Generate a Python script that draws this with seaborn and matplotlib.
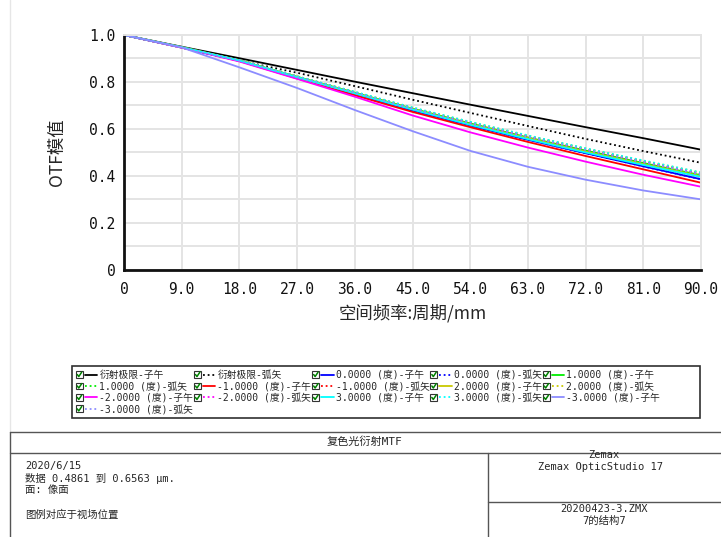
import matplotlib
matplotlib.use("Agg")
import matplotlib.pyplot as plt
import seaborn as sns
from matplotlib.lines import Line2D
from matplotlib.patches import Rectangle
from matplotlib.legend_handler import HandlerLine2D

# spatial frequency (cycles/mm)
freq = [0, 9, 18, 27, 36, 45, 54, 63, 72, 81, 90]

# MTF values
diff_t = [1, 0.950, 0.901, 0.851, 0.801, 0.752, 0.703, 0.655, 0.607, 0.560, 0.511]
diff_s = [1, 0.946, 0.891, 0.839, 0.782, 0.724, 0.668, 0.612, 0.557, 0.505, 0.455]
f0_t = [1, 0.947, 0.890, 0.818, 0.748, 0.678, 0.614, 0.553, 0.496, 0.440, 0.385]
f0_s = [1, 0.947, 0.890, 0.818, 0.748, 0.678, 0.614, 0.553, 0.496, 0.440, 0.385]
f1_t = [1, 0.948, 0.892, 0.822, 0.754, 0.686, 0.623, 0.563, 0.507, 0.454, 0.402]
f1_s = [1, 0.948, 0.893, 0.823, 0.756, 0.688, 0.627, 0.569, 0.514, 0.461, 0.410]
fm1_t = [1, 0.947, 0.889, 0.815, 0.743, 0.672, 0.607, 0.544, 0.484, 0.427, 0.370]
fm1_s = [1, 0.948, 0.892, 0.823, 0.755, 0.687, 0.626, 0.568, 0.513, 0.460, 0.409]
f2_t = [1, 0.948, 0.892, 0.821, 0.752, 0.684, 0.620, 0.560, 0.503, 0.450, 0.398]
f2_s = [1, 0.948, 0.893, 0.824, 0.757, 0.690, 0.629, 0.571, 0.516, 0.464, 0.413]
fm2_t = [1, 0.946, 0.887, 0.813, 0.737, 0.657, 0.585, 0.520, 0.460, 0.404, 0.353]
fm2_s = [1, 0.948, 0.892, 0.822, 0.755, 0.687, 0.625, 0.567, 0.512, 0.459, 0.408]
f3_t = [1, 0.948, 0.891, 0.820, 0.751, 0.682, 0.617, 0.556, 0.499, 0.446, 0.395]
f3_s = [1, 0.948, 0.893, 0.824, 0.758, 0.691, 0.630, 0.572, 0.517, 0.465, 0.414]
fm3_t = [1, 0.947, 0.862, 0.774, 0.680, 0.590, 0.506, 0.438, 0.383, 0.337, 0.299]
fm3_s = [1, 0.947, 0.891, 0.821, 0.753, 0.685, 0.623, 0.565, 0.510, 0.457, 0.406]

series = [diff_t, diff_s, f0_t, f0_s, f1_t, f1_s, fm1_t, fm1_s,
          f2_t, f2_s, fm2_t, fm2_s, f3_t, f3_s, fm3_t, fm3_s]
labels = ["衍射极限-子午", "衍射极限-弧矢",
          "0.0000 (度)-子午", "0.0000 (度)-弧矢",
          "1.0000 (度)-子午", "1.0000 (度)-弧矢",
          "-1.0000 (度)-子午", "-1.0000 (度)-弧矢",
          "2.0000 (度)-子午", "2.0000 (度)-弧矢",
          "-2.0000 (度)-子午", "-2.0000 (度)-弧矢",
          "3.0000 (度)-子午", "3.0000 (度)-弧矢",
          "-3.0000 (度)-子午", "-3.0000 (度)-弧矢"]
colors = ["#000000", "#000000", "#0000ff", "#0000ff", "#00ee00", "#00ee00",
          "#ff0000", "#ff0000", "#c8c800", "#c8c800", "#ff00ff", "#ff00ff",
          "#00ffff", "#00ffff", "#8c8cff", "#8c8cff"]

xticks = [0, 9, 18, 27, 36, 45, 54, 63, 72, 81, 90]
xticklabels = ["0", "9.0", "18.0", "27.0", "36.0", "45.0", "54.0", "63.0", "72.0", "81.0", "90.0"]
yticks = [0, 0.2, 0.4, 0.6, 0.8, 1.0]
yticklabels = ["0", "0.2", "0.4", "0.6", "0.8", "1.0"]

sns.set_theme(style="white")
plt.rcParams["font.family"] = ["DejaVu Sans Mono", "Noto Sans CJK SC"]

W, H = 721, 537
fig = plt.figure(figsize=(W / 100, H / 100), dpi=100)


def fx(px):
    return px / W


def fy(py):
    return 1 - py / H


ax = fig.add_axes([fx(124), fy(269.5), fx(701) - fx(124), fy(35) - fy(269.5)])

handles = []
for vals, lab, col in zip(series, labels, colors):
    dotted = lab.endswith("弧矢")
    ls = (0, (1, 1.6)) if dotted else "-"
    sns.lineplot(x=freq, y=vals, color=col, linestyle=ls, linewidth=1.3,
                 legend=False, ax=ax)
    handles.append(ax.lines[-1])
if ax.get_legend() is not None:
    ax.get_legend().remove()

ax.set_xlim(0, 90)
ax.set_ylim(0, 1)
ax.set_xticks(xticks)
ax.set_xticklabels(xticklabels)
ax.set_yticks(yticks)
ax.set_yticklabels(yticklabels)
ax.set_yticks([0.1, 0.3, 0.5, 0.7, 0.9], minor=True)
ax.grid(True, which="both", color="#e4e4e4", linewidth=1.4)
ax.tick_params(length=0, labelsize=10.5, colors="#111111")
ax.tick_params(axis="x", pad=9)
ax.tick_params(axis="y", pad=6)
for s in ["top", "right"]:
    ax.spines[s].set_color("#e4e4e4")
    ax.spines[s].set_linewidth(1.4)
for s in ["left", "bottom"]:
    ax.spines[s].set_color("#111111")
    ax.spines[s].set_linewidth(2)
ax.set_axisbelow(True)

ax.set_xlabel("空间频率:周期/mm", fontsize=12.5, labelpad=5,
              family=["Noto Sans CJK SC", "DejaVu Sans"])
ax.set_ylabel("OTF模值", fontsize=12.5, labelpad=17,
              family=["Noto Sans CJK SC", "DejaVu Sans"])


class CheckHandler(HandlerLine2D):
    # checkbox in front of the line sample, like the Zemax legend
    def create_artists(self, legend, orig_handle, xdescent, ydescent,
                       width, height, fontsize, trans):
        b = height * 1.0
        off = b + 1.5
        arts = super().create_artists(legend, orig_handle, xdescent - off, ydescent,
                                      width - off, height, fontsize, trans)
        x0 = -xdescent
        y0 = -ydescent + (height - b) / 2
        box = Rectangle((x0, y0), b, b, facecolor="white", edgecolor="#333333",
                        linewidth=0.8, transform=trans)
        tick = Line2D([x0 + 0.2 * b, x0 + 0.42 * b, x0 + 0.85 * b],
                      [y0 + 0.5 * b, y0 + 0.2 * b, y0 + 0.85 * b],
                      color="#008000", linewidth=1.1, transform=trans)
        return [box, tick] + list(arts)


# legend is filled row by row in the reference
order = [0, 5, 10, 15, 1, 6, 11, 2, 7, 12, 3, 8, 13, 4, 9, 14]
leg = fig.legend([handles[i] for i in order], [labels[i] for i in order],
                 loc="upper left", bbox_to_anchor=(fx(73), fy(367)), ncol=5,
                 fontsize=7, frameon=False, borderpad=0.3,
                 labelspacing=0.15, handlelength=2.2, handletextpad=0.2,
                 columnspacing=0.1, borderaxespad=0,
                 handler_map={Line2D: CheckHandler()})

# legend frame spans the full width as in the reference
fig.add_artist(Rectangle((fx(72), fy(418)), fx(700) - fx(72), fy(366) - fy(418),
                         facecolor="none", edgecolor="#303030", linewidth=1.2,
                         transform=fig.transFigure))


def hline(y, x0, x1, c="#555555", lw=1.0):
    fig.add_artist(Line2D([fx(x0), fx(x1)], [fy(y), fy(y)], color=c, linewidth=lw,
                          transform=fig.transFigure))


def vline(x, y0, y1, c="#555555", lw=1.0):
    fig.add_artist(Line2D([fx(x), fx(x)], [fy(y0), fy(y1)], color=c, linewidth=lw,
                          transform=fig.transFigure))


vline(10, 0, 432, c="#e6e6e6")
vline(10, 432, 537)
hline(432, 10, 721)
hline(453, 10, 721)
vline(488, 453, 537)
hline(502, 488, 721)

fs = 7.5
fig.text(fx(365), fy(442), "复色光衍射MTF", ha="center", va="center", fontsize=8)
fig.text(fx(25), fy(466), "2020/6/15", ha="left", va="center", fontsize=fs)
fig.text(fx(25), fy(478), "数据 0.4861 到 0.6563 µm.", ha="left", va="center", fontsize=fs)
fig.text(fx(25), fy(490), "面: 像面", ha="left", va="center", fontsize=fs)
fig.text(fx(25), fy(515), "图例对应于视场位置", ha="left", va="center", fontsize=fs)
fig.text(fx(604), fy(455), "Zemax", ha="center", va="center", fontsize=fs)
fig.text(fx(600), fy(467), "Zemax OpticStudio 17", ha="center", va="center", fontsize=fs)
fig.text(fx(604), fy(509), "20200423-3.ZMX", ha="center", va="center", fontsize=fs)
fig.text(fx(604), fy(521), "7的结构7", ha="center", va="center", fontsize=fs)

fig.savefig("out.png", dpi=100)
